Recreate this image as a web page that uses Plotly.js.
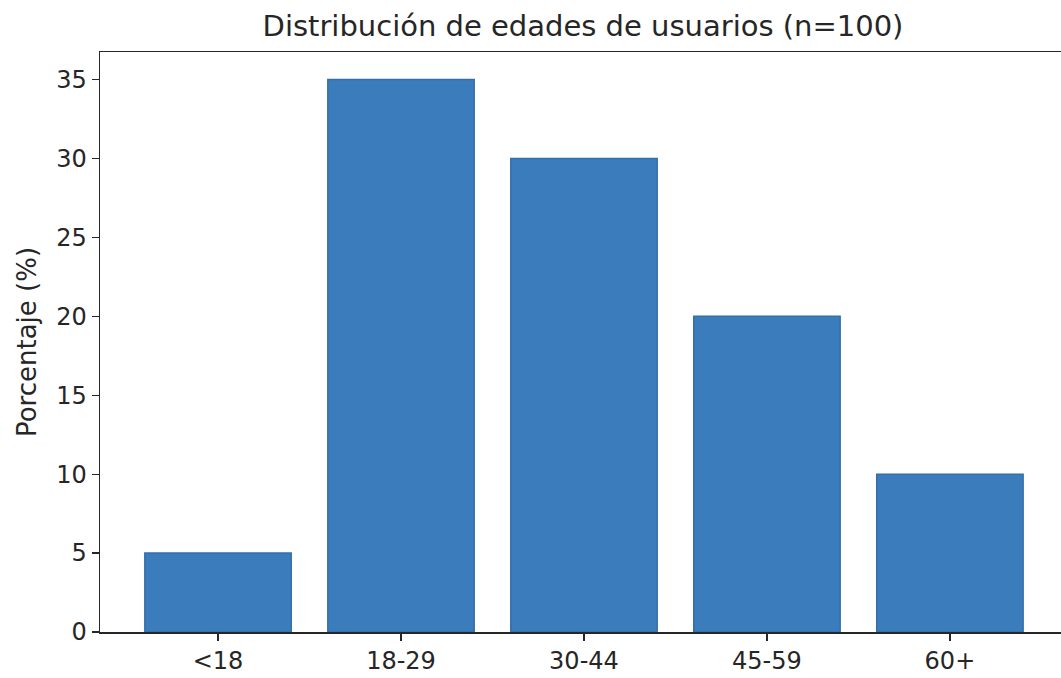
<!DOCTYPE html>
<html>
<head>
<meta charset="utf-8">
<script src="https://cdn.plot.ly/plotly-3.0.1.min.js"></script>
<style>html,body{margin:0;padding:0;background:#fff;}#chart{width:1061px;height:678px;}</style>
</head>
<body>
<div id="chart"></div>
<script>
const categories = ["<18", "18-29", "30-44", "45-59", "60+"];
const percentages = [5, 35, 30, 20, 10];
const yTicks = [0, 5, 10, 15, 20, 25, 30, 35];
const chartTitle = "Distribución de edades de usuarios (n=100)";
const yLabel = "Porcentaje (%)";

const font = "DejaVu Sans, sans-serif";
const xIdx = categories.map((c, i) => i);

const data = [{
  type: "bar",
  x: xIdx,
  y: percentages,
  width: 0.8,
  marker: {color: "#3b7dbc", line: {color: "#346fa8", width: 1.5}},
  hoverinfo: "x+y"
}];

const layout = {
  width: 1061,
  height: 678,
  margin: {l: 100, r: 0, t: 52, b: 46, pad: 0},
  paper_bgcolor: "#ffffff",
  plot_bgcolor: "#ffffff",
  showlegend: false,
  font: {family: font, color: "#262626", size: 24},
  title: {
    text: chartTitle,
    font: {family: font, size: 29, color: "#262626"},
    x: 583 / 1061, xref: "container", xanchor: "center",
    y: 1 - 26 / 678, yref: "container", yanchor: "middle"
  },
  xaxis: {
    range: [-0.645, 4.607],
    tickmode: "array",
    tickvals: xIdx,
    ticktext: categories,
    showgrid: false,
    zeroline: false,
    showline: true,
    mirror: true,
    linecolor: "#262626",
    linewidth: 1.5,
    ticks: "outside",
    ticklen: 7,
    tickwidth: 1.2,
    tickcolor: "#262626",
    tickfont: {family: font, size: 24, color: "#262626"}
  },
  yaxis: {
    range: [0, 36.75],
    tickmode: "array",
    tickvals: yTicks,
    ticktext: yTicks.map(String),
    showgrid: false,
    zeroline: false,
    showline: true,
    linecolor: "#262626",
    linewidth: 1.5,
    ticks: "outside",
    ticklen: 7,
    tickwidth: 1.2,
    tickcolor: "#262626",
    tickfont: {family: font, size: 24, color: "#262626"},
    title: {text: yLabel, font: {family: font, size: 26, color: "#262626"}, standoff: 12}
  }
};

Plotly.newPlot("chart", data, layout, {displayModeBar: false, staticPlot: true});
</script>
</body>
</html>
